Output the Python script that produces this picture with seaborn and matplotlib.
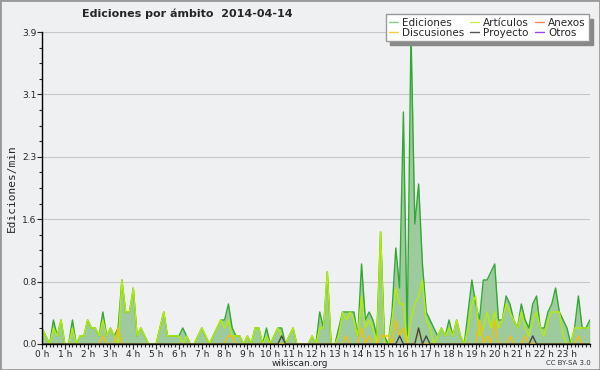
import numpy as np
import pandas as pd
import seaborn as sns
import matplotlib.pyplot as plt
from matplotlib.lines import Line2D
from matplotlib.ticker import MultipleLocator

# 10-minute bins, 0 h .. 24 h (edits per minute)
ediciones = [
    0.2, 0.1, 0.0, 0.3, 0.1, 0.3,
    0.0, 0.0, 0.3, 0.0, 0.1, 0.1,
    0.3, 0.2, 0.2, 0.1, 0.4, 0.1,
    0.2, 0.1, 0.2, 0.8, 0.4, 0.4,
    0.7, 0.1, 0.2, 0.1, 0.0, 0.0,
    0.0, 0.2, 0.4, 0.1, 0.1, 0.1,
    0.1, 0.2, 0.1, 0.0, 0.0, 0.1,
    0.2, 0.1, 0.0, 0.1, 0.2, 0.3,
    0.3, 0.5, 0.2, 0.1, 0.1, 0.0,
    0.1, 0.0, 0.2, 0.2, 0.0, 0.2,
    0.0, 0.1, 0.2, 0.2, 0.0, 0.1,
    0.2, 0.0, 0.0, 0.0, 0.0, 0.1,
    0.0, 0.4, 0.2, 0.9, 0.0, 0.0,
    0.2, 0.4, 0.4, 0.4, 0.4, 0.1,
    1.0, 0.3, 0.4, 0.3, 0.1, 1.4,
    0.1, 0.0, 0.4, 1.2, 0.7, 2.9,
    0.1, 3.9, 1.5, 2.0, 1.0, 0.4,
    0.3, 0.2, 0.1, 0.2, 0.1, 0.3,
    0.1, 0.3, 0.1, 0.0, 0.4, 0.8,
    0.5, 0.3, 0.8, 0.8, 0.9, 1.0,
    0.3, 0.3, 0.6, 0.5, 0.3, 0.2,
    0.5, 0.3, 0.2, 0.5, 0.6, 0.2,
    0.2, 0.4, 0.5, 0.7, 0.4, 0.3,
    0.2, 0.0, 0.2, 0.6, 0.2, 0.2,
    0.3,
]
articulos = [
    0.2, 0.1, 0.0, 0.2, 0.1, 0.3,
    0.0, 0.0, 0.2, 0.0, 0.1, 0.1,
    0.3, 0.2, 0.2, 0.1, 0.3, 0.1,
    0.2, 0.1, 0.0, 0.8, 0.4, 0.4,
    0.7, 0.1, 0.2, 0.1, 0.0, 0.0,
    0.0, 0.2, 0.4, 0.1, 0.1, 0.1,
    0.1, 0.0, 0.1, 0.0, 0.0, 0.1,
    0.2, 0.1, 0.0, 0.1, 0.2, 0.3,
    0.2, 0.3, 0.1, 0.1, 0.1, 0.0,
    0.1, 0.0, 0.2, 0.2, 0.0, 0.1,
    0.0, 0.1, 0.2, 0.1, 0.0, 0.1,
    0.2, 0.0, 0.0, 0.0, 0.0, 0.1,
    0.0, 0.2, 0.2, 0.9, 0.0, 0.0,
    0.1, 0.4, 0.3, 0.4, 0.3, 0.1,
    0.6, 0.2, 0.3, 0.2, 0.0, 1.4,
    0.0, 0.0, 0.3, 0.7, 0.5, 0.5,
    0.0, 0.3, 0.5, 0.6, 0.8, 0.3,
    0.2, 0.0, 0.1, 0.2, 0.1, 0.2,
    0.1, 0.3, 0.1, 0.0, 0.2, 0.5,
    0.6, 0.1, 0.2, 0.4, 0.2, 0.4,
    0.2, 0.3, 0.5, 0.4, 0.3, 0.2,
    0.4, 0.2, 0.1, 0.3, 0.4, 0.2,
    0.1, 0.3, 0.4, 0.4, 0.4, 0.1,
    0.0, 0.0, 0.2, 0.2, 0.2, 0.2,
    0.2,
]
discusiones = [
    0.0, 0.0, 0.0, 0.0, 0.0, 0.0,
    0.0, 0.0, 0.0, 0.0, 0.0, 0.0,
    0.0, 0.0, 0.0, 0.0, 0.1, 0.0,
    0.0, 0.0, 0.2, 0.0, 0.0, 0.0,
    0.0, 0.0, 0.0, 0.0, 0.0, 0.0,
    0.0, 0.0, 0.0, 0.0, 0.0, 0.0,
    0.0, 0.0, 0.0, 0.0, 0.0, 0.0,
    0.0, 0.0, 0.0, 0.0, 0.0, 0.0,
    0.0, 0.1, 0.1, 0.0, 0.0, 0.0,
    0.0, 0.0, 0.0, 0.0, 0.0, 0.0,
    0.0, 0.0, 0.0, 0.0, 0.0, 0.0,
    0.0, 0.0, 0.0, 0.0, 0.0, 0.0,
    0.0, 0.0, 0.0, 0.0, 0.0, 0.0,
    0.0, 0.0, 0.1, 0.0, 0.0, 0.0,
    0.2, 0.0, 0.1, 0.0, 0.0, 0.1,
    0.1, 0.1, 0.0, 0.3, 0.1, 0.2,
    0.0, 0.0, 0.0, 0.2, 0.0, 0.0,
    0.0, 0.0, 0.0, 0.0, 0.0, 0.0,
    0.0, 0.0, 0.0, 0.0, 0.0, 0.0,
    0.0, 0.3, 0.0, 0.1, 0.0, 0.3,
    0.0, 0.0, 0.0, 0.1, 0.0, 0.0,
    0.0, 0.1, 0.0, 0.0, 0.0, 0.0,
    0.0, 0.0, 0.0, 0.0, 0.0, 0.0,
    0.0, 0.0, 0.0, 0.1, 0.0, 0.0,
    0.0,
]
proyecto = [
    0.0, 0.0, 0.0, 0.0, 0.0, 0.0,
    0.0, 0.0, 0.0, 0.0, 0.0, 0.0,
    0.0, 0.0, 0.0, 0.0, 0.0, 0.0,
    0.0, 0.0, 0.0, 0.0, 0.0, 0.0,
    0.0, 0.0, 0.0, 0.0, 0.0, 0.0,
    0.0, 0.0, 0.0, 0.0, 0.0, 0.0,
    0.0, 0.0, 0.0, 0.0, 0.0, 0.0,
    0.0, 0.0, 0.0, 0.0, 0.0, 0.0,
    0.0, 0.0, 0.0, 0.0, 0.0, 0.0,
    0.0, 0.0, 0.0, 0.0, 0.0, 0.0,
    0.0, 0.0, 0.0, 0.1, 0.0, 0.0,
    0.0, 0.0, 0.0, 0.0, 0.0, 0.0,
    0.0, 0.0, 0.0, 0.0, 0.0, 0.0,
    0.0, 0.0, 0.0, 0.0, 0.0, 0.0,
    0.0, 0.0, 0.0, 0.0, 0.0, 0.0,
    0.0, 0.0, 0.0, 0.0, 0.1, 0.0,
    0.0, 0.0, 0.0, 0.2, 0.0, 0.1,
    0.0, 0.0, 0.0, 0.0, 0.0, 0.0,
    0.0, 0.0, 0.0, 0.0, 0.0, 0.0,
    0.0, 0.0, 0.0, 0.0, 0.0, 0.0,
    0.0, 0.0, 0.0, 0.0, 0.0, 0.0,
    0.0, 0.0, 0.0, 0.1, 0.0, 0.0,
    0.0, 0.0, 0.0, 0.0, 0.0, 0.0,
    0.0, 0.0, 0.0, 0.0, 0.0, 0.0,
    0.0,
]
anexos = [0.0] * len(ediciones)
otros = [0.0] * len(ediciones)

hour_labels = [f"{h} h" for h in range(24)]
y_ticks = [0.0, 0.78, 1.56, 2.34, 3.12, 3.9]

colors = {
    'Anexos': '#ff8850',
    'Otros': '#9944ee',
    'Ediciones': '#33a833',
    'Artículos': '#b4ee00',
    'Discusiones': '#f5c000',
    'Proyecto': '#444444',
}
legend_colors = {
    'Ediciones': '#88d088',
    'Discusiones': '#ffcc44',
    'Artículos': '#ccee55',
    'Proyecto': '#555555',
    'Anexos': '#ff8855',
    'Otros': '#9944ee',
}

hora = np.arange(len(ediciones)) / 6
df = pd.DataFrame({
    'hora': hora,
    'Ediciones': ediciones,
    'Artículos': articulos,
    'Discusiones': discusiones,
    'Proyecto': proyecto,
    'Anexos': anexos,
    'Otros': otros,
})
long = df.melt(id_vars='hora', var_name='serie', value_name='valor')

sns.set_style("white")
plt.rcParams['font.family'] = ['DejaVu Sans']

bg = '#eef0f2'
fig, ax = plt.subplots(figsize=(6, 3.7), dpi=100)
fig.patch.set_facecolor(bg)
ax.set_facecolor(bg)
fig.subplots_adjust(left=0.07, right=0.983, top=0.9135, bottom=0.0703)

ax.fill_between(hora, ediciones, color='#9ecb9e', lw=0, zorder=1)
sns.lineplot(data=long, x='hora', y='valor', hue='serie',
             hue_order=['Anexos', 'Otros', 'Ediciones', 'Artículos', 'Discusiones', 'Proyecto'],
             palette=colors, estimator=None, sort=False, lw=1, legend=False, ax=ax)

ax.set_xlim(0, 24)
ax.set_ylim(0, 3.9)
ax.set_xticks(range(24))
ax.set_xticklabels(hour_labels)
ax.xaxis.set_minor_locator(MultipleLocator(1 / 6))
ax.set_yticks(y_ticks)
ax.set_yticklabels([f"{v:.1f}" for v in y_ticks])
ax.yaxis.set_minor_locator(MultipleLocator(0.195))
ax.tick_params(which='major', direction='out', length=3.5, width=0.8, labelsize=6.5, pad=0.5)
ax.tick_params(which='minor', direction='out', length=2.5, width=0.8)
ax.tick_params(axis='x', which='both', bottom=True)
ax.tick_params(axis='y', which='both', left=True)

ax.yaxis.grid(True, color='#c8c8c8', lw=0.8)
ax.set_axisbelow(True)
for side in ['top', 'right']:
    ax.spines[side].set_visible(False)
for side in ['left', 'bottom']:
    ax.spines[side].set_color('black')
    ax.spines[side].set_linewidth(1)

ax.set_xlabel('')
ax.set_ylabel('Ediciones/min', family='DejaVu Sans Mono', fontsize=8, labelpad=4)

fig.text(0.313, 0.962, 'Ediciones por ámbito  2014-04-14', ha='center', va='center',
         fontsize=8, fontweight='bold')
fig.text(0.5, 0.018, 'wikiscan.org', ha='center', va='center', fontsize=6.5)
fig.text(0.985, 0.018, 'CC BY-SA 3.0', ha='right', va='center', fontsize=5, color='#333333')

handles = [Line2D([], [], color=c, lw=1) for c in legend_colors.values()]
fig.legend(handles, list(legend_colors.keys()), ncol=3, loc='upper right',
           bbox_to_anchor=(0.99, 0.975), fontsize=7.5, frameon=True, fancybox=False,
           edgecolor='#999999', facecolor='white', framealpha=1,
           shadow={'ox': 3, 'oy': -3, 'color': '#888888', 'alpha': 1},
           handlelength=0.9, handletextpad=0.4, columnspacing=0.5,
           labelspacing=0.05, borderpad=0.3)

fig.add_artist(plt.Rectangle((0, 0), 1, 1, transform=fig.transFigure, fill=False,
                             ec='#999999', lw=2))

fig.savefig('out.png', dpi=100, facecolor=bg)
